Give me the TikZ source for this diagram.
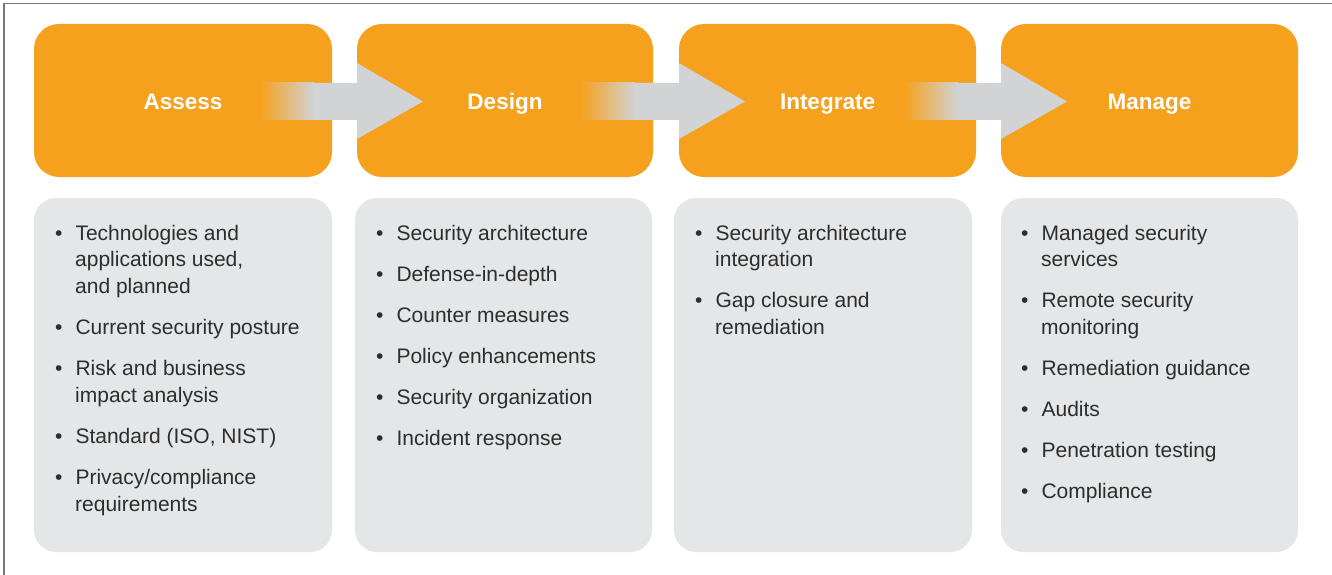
\documentclass[tikz,border=0pt]{standalone}
\usepackage{fontspec}
\setmainfont{Liberation Sans}
\definecolor{orng}{RGB}{245,161,30}
\definecolor{arrgray}{RGB}{209,211,212}
\definecolor{boxgray}{RGB}{229,230,231}
\definecolor{txt}{RGB}{45,45,45}
\definecolor{frame}{RGB}{120,120,120}
\newcommand\bulletlist[1]{%
  \begin{minipage}[t]{250pt}\raggedright
  \begin{list}{\textbullet}{\setlength\leftmargin{17pt}\setlength\labelsep{13pt}%
    \setlength\labelwidth{7pt}\setlength\itemsep{14.25pt}\setlength\parsep{0pt}%
    \setlength\topsep{0pt}\setlength\partopsep{0pt}}#1\end{list}\end{minipage}}
\begin{document}
\begin{tikzpicture}[x=1pt,y=-1pt,
  phase/.style={fill=orng,rounded corners=25pt},
  listbox/.style={fill=boxgray,rounded corners=22pt},
  title/.style={text=white,font=\fontsize{22.5}{26}\selectfont\bfseries,inner sep=0pt,anchor=base},
  items/.style={text=txt,font=\fontsize{21}{26.75}\selectfont,inner sep=0pt,anchor=base west},
  arrowbody/.style={fill=arrgray}]
\useasboundingbox (0,0) rectangle (1332,575);
\fill[white] (0,0) rectangle (1332,575);
\draw[frame,line width=1.6pt] (4,580) -- (4,3.5) -- (1340,3.5);
% orange phase boxes
\path[phase] (34,24) rectangle (332,177);
\path[phase] (357,24) rectangle (653,177);
\path[phase] (679,24) rectangle (976,177);
\path[phase] (1001,24) rectangle (1298,177);
% gray list boxes
\path[listbox] (34,198) rectangle (332,552);
\path[listbox] (355,198) rectangle (652,552);
\path[listbox] (674,198) rectangle (972,552);
\path[listbox] (1001,198) rectangle (1298,552);
% arrows
\foreach \r/\l in {332/357, 653/679, 976/1001}{
  \shade[left color=orng,right color=arrgray,shading=axis] (\r-72,83) rectangle (\r-18,120);
  \fill[arrowbody] (\r-18.5,83) -- (\l,83) -- (\l,63) -- (\l+66,101.5) -- (\l,139) -- (\l,120) -- (\r-18.5,120) -- cycle;
}
% titles
\node[title] (assess) at (183,110) {Assess};
\node[title] (design) at (505,110) {Design};
\node[title] (integrate) at (827.5,110) {Integrate};
\node[title] (manage) at (1149.5,110) {Manage};
% lists
\node[items] (l1) at (58,240) {\bulletlist{%
  \item Technologies and\\applications used,\\and planned
  \item Current security posture
  \item Risk and business\\impact analysis
  \item Standard (ISO, NIST)
  \item Privacy/compliance\\requirements}};
\node[items] (l2) at (379,240) {\bulletlist{%
  \item Security architecture
  \item Defense-in-depth
  \item Counter measures
  \item Policy enhancements
  \item Security organization
  \item Incident response}};
\node[items] (l3) at (698,240) {\bulletlist{%
  \item Security architecture\\integration
  \item Gap closure and\\remediation}};
\node[items] (l4) at (1024,240) {\bulletlist{%
  \item Managed security\\services
  \item Remote security\\monitoring
  \item Remediation guidance
  \item Audits
  \item Penetration testing
  \item Compliance}};
\end{tikzpicture}
\end{document}
